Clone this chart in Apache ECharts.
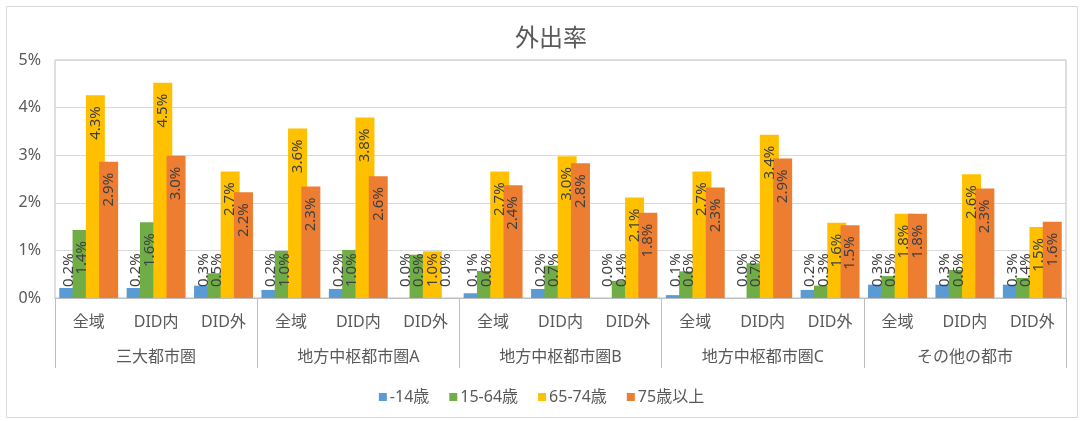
<!DOCTYPE html>
<html>
<head>
<meta charset="utf-8">
<script src="https://cdn.jsdelivr.net/npm/echarts@6/dist/echarts.min.js"></script>
<style>
  html, body { margin: 0; padding: 0; background: #fff; }
  #chart { width: 1083px; height: 421px; }
</style>
</head>
<body>
<div id="chart"></div>
<script>
// Area type within each metropolitan class
const subCategories = ['全域', 'DID内', 'DID外', '全域', 'DID内', 'DID外', '全域', 'DID内', 'DID外',
                       '全域', 'DID内', 'DID外', '全域', 'DID内', 'DID外'];
// Metropolitan classes (outer axis level)
const groups = ['三大都市圏', '地方中枢都市圏A', '地方中枢都市圏B', '地方中枢都市圏C', 'その他の都市'];
// Age classes
const seriesNames = ['-14歳', '15-64歳', '65-74歳', '75歳以上'];
// Trip-making rate (%) by age class
const ageUnder14 = [0.21, 0.21, 0.26, 0.17, 0.19, 0.00, 0.10, 0.19, 0.00, 0.06, 0.00, 0.17, 0.28, 0.28, 0.28];
const age15to64 = [1.43, 1.59, 0.52, 0.99, 1.01, 0.91, 0.57, 0.68, 0.36, 0.56, 0.73, 0.26, 0.46, 0.59, 0.42];
const age65to74 = [4.26, 4.52, 2.66, 3.56, 3.79, 0.98, 2.66, 2.98, 2.11, 2.66, 3.43, 1.58, 1.77, 2.60, 1.49];
const age75plus = [2.86, 2.99, 2.22, 2.34, 2.56, 0.00, 2.37, 2.83, 1.79, 2.32, 2.93, 1.53, 1.77, 2.30, 1.60];
const yTicks = [0, 1, 2, 3, 4, 5];

const colors = ['#5B9BD5', '#70AD47', '#FFC000', '#ED7D31'];
const FONT = '"Noto Sans", "Noto Sans CJK JP", sans-serif';
const TEXT = '#595959';

// Vertical value labels: near the bar end when they fit, otherwise at the base
const labelTop = { position: 'insideTop', rotate: 90, align: 'right', verticalAlign: 'middle', distance: 11 };
const labelBase = { position: 'insideBottom', rotate: 90, align: 'left', verticalAlign: 'middle', distance: 11 };

function buildData(values) {
  return values.map(v => ({ value: v, label: v >= 1.2 ? labelTop : labelBase }));
}

const allValues = [ageUnder14, age15to64, age65to74, age75plus];

const chart = echarts.init(document.getElementById('chart'), null, { renderer: 'canvas' });

chart.setOption({
  animation: false,
  textStyle: { fontFamily: FONT },
  title: {
    text: '外出率',
    left: 510,
    top: 22,
    textStyle: { fontSize: 24, fontWeight: 'normal', color: TEXT, fontFamily: FONT }
  },
  graphic: [{
    type: 'rect',
    shape: { x: 6.5, y: 6.5, width: 1071, height: 411 },
    style: { fill: 'none', stroke: '#d9d9d9', lineWidth: 1 },
    silent: true,
    z: -10
  }],
  legend: {
    data: seriesNames,
    left: 'center',
    top: 384,
    icon: 'rect',
    itemWidth: 8,
    itemHeight: 8,
    itemGap: 20,
    textStyle: { fontSize: 16, color: TEXT, fontFamily: FONT, padding: [0, 0, 0, -2] }
  },
  grid: {
    left: 55,
    right: 17,
    top: 60,
    bottom: 123,
    show: true,
    borderColor: '#bfbfbf',
    borderWidth: 1
  },
  xAxis: [
    {
      type: 'category',
      data: subCategories,
      position: 'bottom',
      axisLine: { show: true, lineStyle: { color: '#bfbfbf' } },
      axisTick: { show: false },
      axisLabel: { interval: 0, margin: 16, fontSize: 16, color: TEXT, fontFamily: FONT }
    },
    {
      type: 'category',
      data: groups,
      position: 'bottom',
      offset: 0,
      axisLine: { show: false },
      axisTick: { show: true, length: 70, lineStyle: { color: '#bfbfbf' } },
      axisLabel: { interval: 0, margin: 51, fontSize: 16, color: TEXT, fontFamily: FONT }
    }
  ],
  yAxis: {
    type: 'value',
    min: yTicks[0],
    max: yTicks[yTicks.length - 1],
    interval: 1,
    axisLine: { show: false },
    axisTick: { show: false },
    splitLine: { lineStyle: { color: '#d9d9d9' } },
    axisLabel: { formatter: '{value}%', fontSize: 16, color: TEXT, margin: 14, fontFamily: FONT }
  },
  series: seriesNames.map((name, i) => ({
    name: name,
    type: 'bar',
    xAxisIndex: 0,
    barWidth: 19,
    barGap: '-30%',
    itemStyle: { color: colors[i] },
    label: {
      show: true,
      rotate: 90,
      fontSize: 15,
      color: '#404040',
      fontFamily: FONT,
      formatter: p => p.value.toFixed(1) + '%'
    },
    data: buildData(allValues[i])
  }))
});
</script>
</body>
</html>
